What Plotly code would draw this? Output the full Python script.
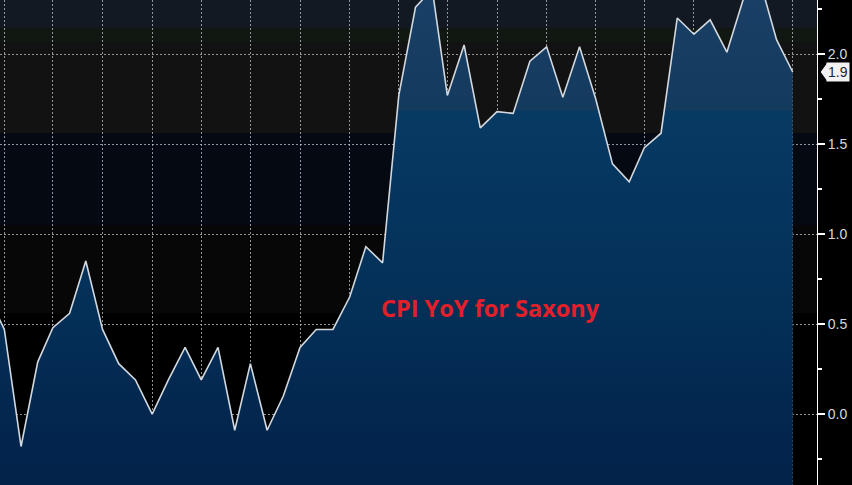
import plotly.graph_objects as go

# monthly CPI YoY for Saxony, Nov 2014 .. Dec 2018 (first point is just off the left edge)
months = [
    "2014-11-01", "2014-12-01",
    "2015-01-01", "2015-02-01", "2015-03-01", "2015-04-01", "2015-05-01", "2015-06-01",
    "2015-07-01", "2015-08-01", "2015-09-01", "2015-10-01", "2015-11-01", "2015-12-01",
    "2016-01-01", "2016-02-01", "2016-03-01", "2016-04-01", "2016-05-01", "2016-06-01",
    "2016-07-01", "2016-08-01", "2016-09-01", "2016-10-01", "2016-11-01", "2016-12-01",
    "2017-01-01", "2017-02-01", "2017-03-01", "2017-04-01", "2017-05-01", "2017-06-01",
    "2017-07-01", "2017-08-01", "2017-09-01", "2017-10-01", "2017-11-01", "2017-12-01",
    "2018-01-01", "2018-02-01", "2018-03-01", "2018-04-01", "2018-05-01", "2018-06-01",
    "2018-07-01", "2018-08-01", "2018-09-01", "2018-10-01", "2018-11-01", "2018-12-01",
]
cpi_yoy = [
    0.66, 0.47,
    -0.18, 0.29, 0.48, 0.56, 0.85, 0.47,
    0.28, 0.19, 0.0, 0.19, 0.37, 0.19,
    0.37, -0.09, 0.28, -0.09, 0.10, 0.37,
    0.47, 0.47, 0.65, 0.93, 0.84, 1.77,
    2.26, 2.36, 1.77, 2.05, 1.59, 1.68,
    1.67, 1.96, 2.04, 1.76, 2.04, 1.75,
    1.39, 1.29, 1.48, 1.56, 2.20, 2.11,
    2.19, 2.01, 2.31, 2.41, 2.08, 1.90,
]
y_ticks = [0.0, 0.5, 1.0, 1.5, 2.0]
title_text = "CPI YoY for Saxony"

y_lo, y_hi = -0.394, 2.3
grid_col = "rgba(200,205,215,0.7)"

fig = go.Figure()

# invisible floor so the area fills down to the bottom of the chart
fig.add_trace(go.Scatter(x=months, y=[y_lo - 1] * len(months), mode="lines",
                         line=dict(width=0), hoverinfo="skip", showlegend=False))
fig.add_trace(go.Scatter(
    x=months, y=cpi_yoy, mode="lines", fill="tonexty",
    line=dict(color="#d2d8de", width=1.6),
    fillgradient=dict(type="vertical", start=y_lo, stop=y_hi,
                      colorscale=[[0, "#03224a"], [0.146, "#03274f"], [0.38, "#043058"],
                                  [0.588, "#05355f"], [0.77, "#073a63"], [0.774, "#143a5e"],
                                  [1, "#193f66"]]),
    showlegend=False,
))

# background bands
bands = [
    (2.144, 2.4, "#131923"),
    (2.067, 2.144, "#111711"),
    (1.561, 2.067, "#121212"),
    (1.05, 1.561, "#050a12"),
    (0.561, 1.05, "#070707"),
]
for lo, hi, col in bands:
    fig.add_shape(type="rect", xref="paper", yref="y", x0=0, x1=1, y0=lo, y1=hi,
                  fillcolor=col, line_width=0, layer="below")

# last value tag
last = cpi_yoy[-1]
fig.add_shape(type="path", xref="paper", yref="y",
              path=f"M 1.0045 {last} L 1.0125 {last + 0.05} L 1.0125 {last - 0.05} Z",
              fillcolor="#f2f2f2", line_width=0)
fig.add_annotation(x=1.0115, xref="paper", y=last, yref="y", text=f"{last:.1f}",
                   showarrow=False, xanchor="left", bgcolor="#f2f2f2", borderpad=1,
                   font=dict(family="Liberation Sans", size=14, color="#1b2633"))

fig.add_annotation(x=0.6, xref="paper", y=0.589, yref="y", text=f"<b>{title_text}</b>",
                   showarrow=False, font=dict(family="Open Sans", size=23.5, color="#e3202a"))

fig.update_xaxes(
    type="date", range=["2014-11-23", "2019-01-15"],
    tick0="2014-12-01", dtick="M3", showticklabels=False, ticks="",
    showgrid=True, gridcolor=grid_col, griddash="2px,2px", gridwidth=1,
    zeroline=False, showline=False,
)
fig.update_yaxes(
    side="right", range=[y_lo, y_hi], tickvals=y_ticks, tickformat=".1f",
    ticks="outside", ticklen=7, tickwidth=2, tickcolor="#ffffff",
    minor=dict(dtick=0.25, tick0=0.25, ticks="outside", ticklen=4, tickcolor="#ffffff", showgrid=False),
    showline=True, linecolor="#ffffff", linewidth=1,
    showgrid=True, gridcolor=grid_col, griddash="2px,2px", gridwidth=1,
    zeroline=False, tickfont=dict(family="Liberation Sans", size=14, color="#d4d8de"),
)
fig.update_layout(
    width=852, height=485, margin=dict(l=0, r=35, t=0, b=0),
    paper_bgcolor="#000000", plot_bgcolor="#000000",
    showlegend=False,
)

# drop the page's default body margin so the chart sits flush in the window
fig.write_html("out.html", config={"displayModeBar": False},
               post_script="document.body.style.margin='0';document.body.style.background='#000';")
